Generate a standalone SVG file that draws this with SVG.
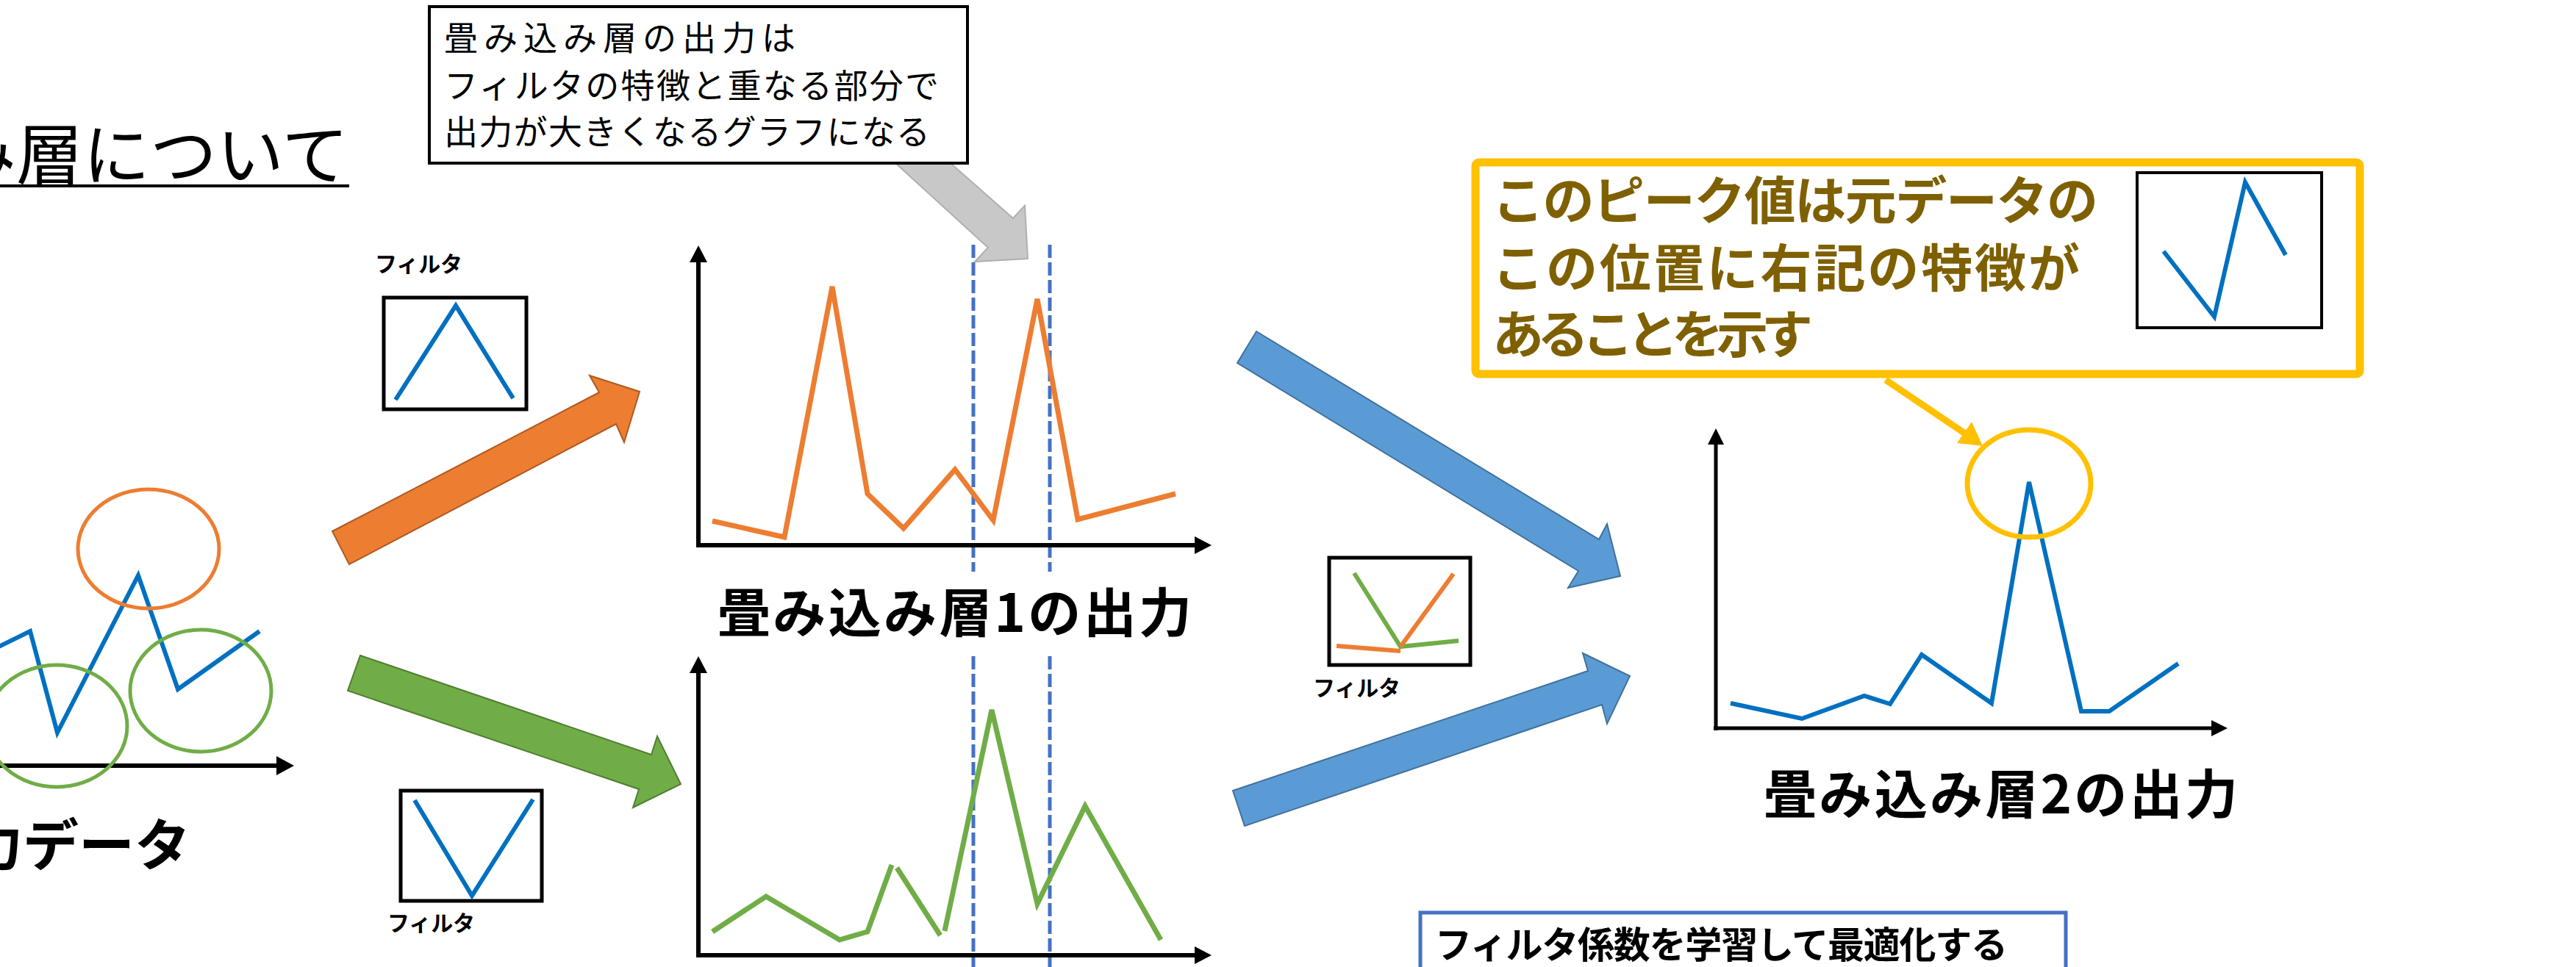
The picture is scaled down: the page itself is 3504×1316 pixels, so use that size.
<svg xmlns="http://www.w3.org/2000/svg" width="3504" height="1316" viewBox="0 0 3504 1316">
<style>
text{font-family:"Noto Sans CJK JP","Noto Sans CJK SC",sans-serif;fill:#000}
.b{font-weight:bold}
.axis{stroke:#000;stroke-width:6;fill:none}
.ah{fill:#000}
.fbox{fill:#fff;stroke:#000;stroke-width:5}
.ln{fill:none;stroke-linejoin:miter;stroke-linecap:butt}
.dash{stroke:#4472C4;stroke-width:5;stroke-dasharray:18 6;fill:none}
</style>
<rect x="0" y="0" width="3504" height="1316" fill="#fff"/>

<g id="title">
<text x="-69" y="244" font-size="91">み層について</text>
<line x1="0" y1="253" x2="475" y2="253" stroke="#000" stroke-width="4"/>
</g>

<g id="connectors">
<polygon id="gray-arrow" points="1194,200 1268,200 1378,297 1394,280 1398,352 1326,356 1344,337" fill="#C8C8C8" stroke="#B0B0B0" stroke-width="2"/>
<polygon id="orange-arrow" points="452,723 815,534 802,511 870,533 849,602 838,577 475,768" fill="#ED7D31" stroke="#AE5A21" stroke-width="2"/>
<polygon id="green-arrow" points="490,892 886,1027 894,1002 926,1067 861,1099 869,1074 473,940" fill="#70AD47" stroke="#507E32" stroke-width="2"/>
<polygon id="blue-arrow-1" points="1709,451 2175,734 2186,713 2204,784 2133,800 2147,777 1683,494" fill="#5B9BD5" stroke="#41719C" stroke-width="2"/>
<polygon id="blue-arrow-2" points="1677,1076 2160,913 2153,889 2217,920 2186,985 2179,959 1693,1124" fill="#5B9BD5" stroke="#41719C" stroke-width="2"/>
<line x1="2565" y1="517" x2="2673" y2="590" stroke="#FFC000" stroke-width="9"/>
<polygon points="2662,603 2682,574 2697,607" fill="#FFC000"/>
</g>

<g id="note-box">
<rect x="584" y="9" width="732" height="213" fill="#fff" stroke="#000" stroke-width="4"/>
<text x="604" y="68" font-size="46" textLength="478">畳み込み層の出力は</text>
<text x="604" y="133" font-size="46" textLength="673">フィルタの特徴と重なる部分で</text>
<text x="604" y="196" font-size="46" textLength="661">出力が大きくなるグラフになる</text>
</g>

<g id="input-data">
<line class="axis" x1="-10" y1="1042" x2="380" y2="1042"/>
<polygon class="ah" points="376,1029 400,1042 376,1055"/>
<polyline class="ln" points="-40,899 41,859 78,997 188,783 242,938 353,859" stroke="#0070C0" stroke-width="6"/>
<ellipse cx="202" cy="747" rx="96" ry="81" fill="none" stroke="#ED7D31" stroke-width="5"/>
<ellipse cx="77" cy="988" rx="96" ry="83" fill="none" stroke="#70AD47" stroke-width="5"/>
<ellipse cx="273" cy="940" rx="96" ry="83" fill="none" stroke="#70AD47" stroke-width="5"/>
<text class="b" x="-45" y="1178" font-size="76">力データ</text>
</g>

<g id="filter-1">
<text class="b" x="510" y="370" font-size="30" textLength="119">フィルタ</text>
<rect class="fbox" x="522" y="405" width="194" height="152"/>
<polyline class="ln" points="538,544 620,416 698,542" stroke="#0070C0" stroke-width="6"/>
</g>

<g id="filter-2">
<rect class="fbox" x="545" y="1076" width="192" height="150"/>
<polyline class="ln" points="564,1089 642,1219 725,1088" stroke="#0070C0" stroke-width="6"/>
<text class="b" x="527" y="1267" font-size="30" textLength="119">フィルタ</text>
</g>

<g id="dashes">
<line class="dash" x1="1324" y1="333" x2="1324" y2="778"/>
<line class="dash" x1="1428" y1="333" x2="1428" y2="778"/>
<line class="dash" x1="1324" y1="893" x2="1324" y2="1316"/>
<line class="dash" x1="1428" y1="893" x2="1428" y2="1316"/>
</g>

<g id="conv1-output">
<line class="axis" x1="950" y1="745" x2="950" y2="352"/>
<polygon class="ah" points="938,357 950,334 962,357"/>
<line class="axis" x1="947" y1="742" x2="1630" y2="742"/>
<polygon class="ah" points="1625,730 1648,742 1625,754"/>
<polyline class="ln" points="969,709 1067,731 1132,390 1180,672 1229,719 1299,639 1351,708 1411,407 1466,707 1599,672" stroke="#ED7D31" stroke-width="7"/>
<text class="b" x="976" y="860" font-size="72" textLength="645">畳み込み層1の出力</text>
</g>

<g id="conv1-output-b">
<line class="axis" x1="950" y1="1303" x2="950" y2="911"/>
<polygon class="ah" points="938,916 950,893 962,916"/>
<line class="axis" x1="947" y1="1300" x2="1630" y2="1300"/>
<polygon class="ah" points="1625,1288 1648,1300 1625,1312"/>
<polyline class="ln" points="969,1268 1042,1220 1142,1279 1180,1268 1213,1177" stroke="#70AD47" stroke-width="7"/>
<polyline class="ln" points="1220,1181 1279,1273" stroke="#70AD47" stroke-width="7"/>
<polyline class="ln" points="1285,1267 1349,966 1411,1230 1476,1097 1579,1279" stroke="#70AD47" stroke-width="7"/>
</g>

<g id="filter-3">
<rect class="fbox" x="1808" y="759" width="192" height="146"/>
<polyline class="ln" points="1842,780 1905,880 1984,872" stroke="#70AD47" stroke-width="6"/>
<polyline class="ln" points="1977,781 1905,880" stroke="#ED7D31" stroke-width="6"/>
<polyline class="ln" points="1818,879 1905,886" stroke="#ED7D31" stroke-width="6"/>
<text class="b" x="1786" y="947" font-size="30" textLength="119">フィルタ</text>
</g>

<g id="peak-note">
<rect x="2007" y="221" width="1203" height="288" rx="5" fill="#fff" stroke="#FFC000" stroke-width="11"/>
<text class="b" x="2030" y="299" font-size="70" textLength="824" fill="#7F6000" style="fill:#7F6000">このピーク値は元データの</text>
<text class="b" x="2030" y="391" font-size="70" textLength="799" style="fill:#7F6000">この位置に右記の特徴が</text>
<text class="b" x="2030" y="481" font-size="70" textLength="436" style="fill:#7F6000">あることを示す</text>
<rect x="2907" y="235" width="251" height="211" fill="#fff" stroke="#000" stroke-width="4"/>
<polyline class="ln" points="2943,342 3012,431 3054,248 3109,347" stroke="#0070C0" stroke-width="6"/>
</g>

<g id="conv2-output">
<line class="axis" x1="2334" y1="994" x2="2334" y2="600" style="stroke-width:5"/>
<polygon class="ah" points="2323,605 2334,583 2345,605"/>
<line class="axis" x1="2331" y1="991" x2="3012" y2="991" style="stroke-width:5"/>
<polygon class="ah" points="3008,980 3030,991 3008,1002"/>
<polyline class="ln" points="2354,957 2451,978 2536,947 2571,958 2614,891 2709,957 2760,656 2831,968 2869,968 2963,903" stroke="#0070C0" stroke-width="6"/>
<ellipse cx="2760" cy="658" rx="84" ry="73" fill="none" stroke="#FFC000" stroke-width="7"/>
<text class="b" x="2399" y="1107" font-size="72" textLength="645">畳み込み層2の出力</text>
</g>

<g id="learn-note">
<rect x="1932" y="1242" width="878" height="120" fill="#fff" stroke="#4472C4" stroke-width="5"/>
<text class="b" x="1952" y="1304" font-size="50" textLength="779">フィルタ係数を学習して最適化する</text>
</g>
</svg>
